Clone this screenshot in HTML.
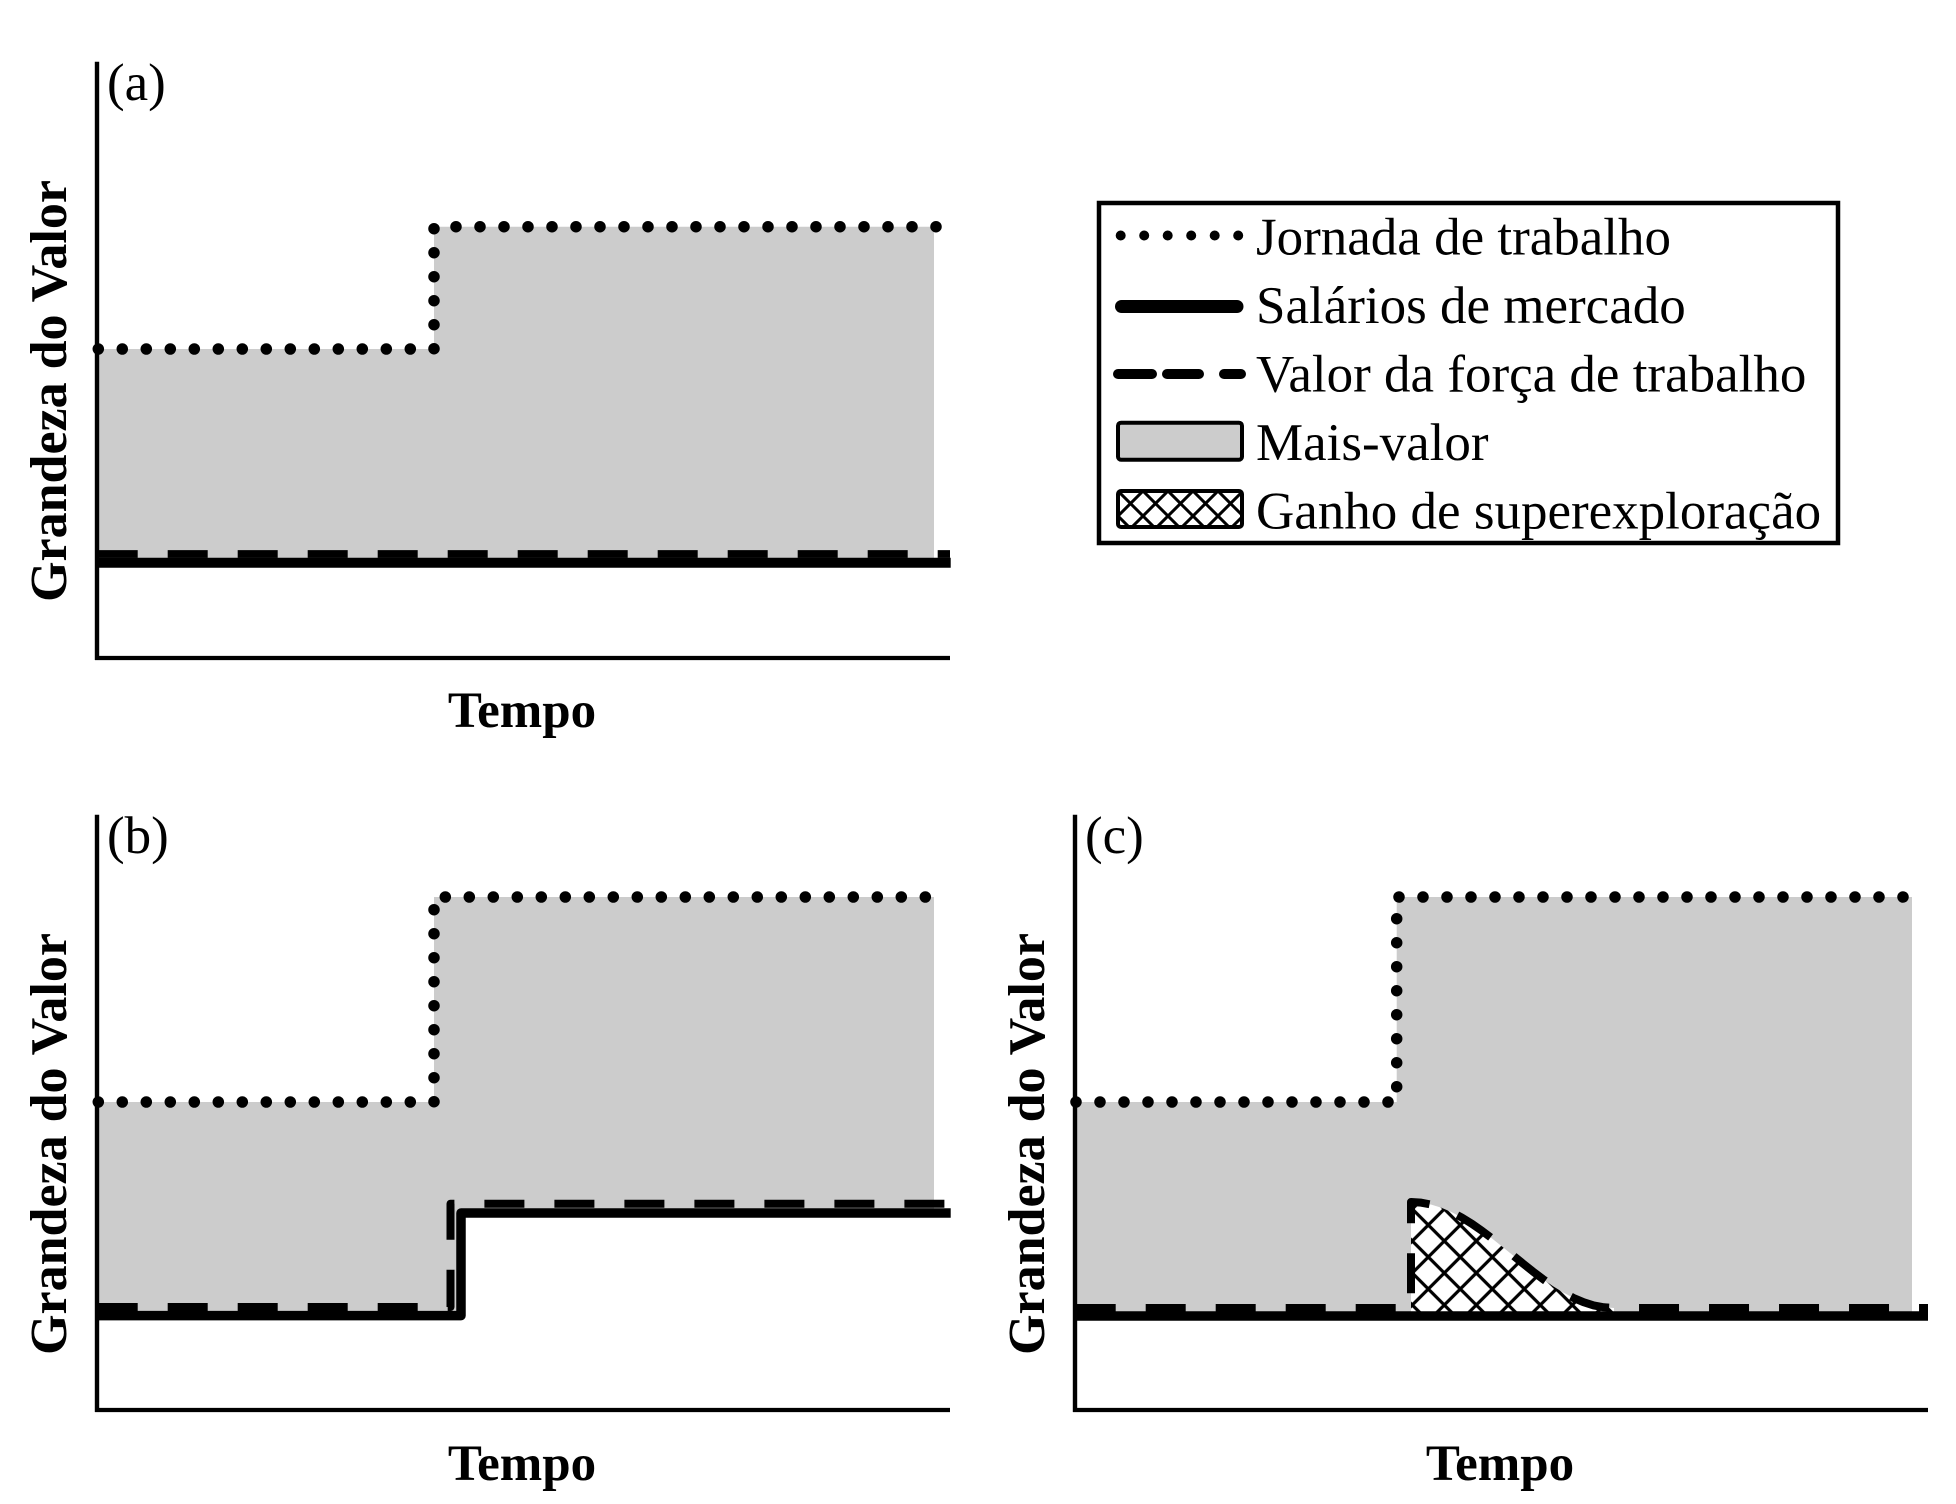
<!DOCTYPE html>
<html>
<head>
<meta charset="utf-8">
<style>
html,body{margin:0;padding:0;background:#fff;}
svg{display:block;}
text{font-family:"Liberation Serif","Times New Roman",serif;fill:#000;}
</style>
</head>
<body>
<svg xmlns="http://www.w3.org/2000/svg" width="1956" height="1504" viewBox="0 0 1956 1504">
<defs>
  <pattern id="h1" patternUnits="userSpaceOnUse" x="1412.3" y="1209" width="32" height="32">
    <rect width="32" height="32" fill="#fff"/>
    <path d="M0,0L32,32M32,0L0,32" stroke="#000" stroke-width="3.2" fill="none"/>
  </pattern>
  <pattern id="h2" patternUnits="userSpaceOnUse" x="1118" y="491" width="25" height="25">
    <rect width="25" height="25" fill="#fff"/>
    <path d="M0,0L25,25M25,0L0,25" stroke="#000" stroke-width="3" fill="none"/>
  </pattern>
</defs>
<rect width="1956" height="1504" fill="#fff"/>

<!-- ===== Panel (a) ===== -->
<path d="M99,349 H434 V226.7 H934 V558 H99 Z" fill="#cccccc"/>
<path d="M97.7,554 H950" stroke="#000" stroke-width="7.7" fill="none" stroke-dasharray="40 30"/>
<path d="M97,562.7 H950.7" stroke="#000" stroke-width="10" fill="none"/>
<path d="M98.3,349 H434 V226.7 H940" stroke="#000" stroke-width="11.5" fill="none" stroke-dasharray="0 24" stroke-linecap="round"/>
<path d="M97,61.7 V660" stroke="#000" stroke-width="4.4"/>
<path d="M95,658 H950" stroke="#000" stroke-width="4.2"/>
<text x="107" y="100" font-size="53">(a)</text>
<text x="522" y="727" font-size="51" font-weight="bold" text-anchor="middle">Tempo</text>
<text transform="translate(66,391) rotate(-90)" font-size="52" font-weight="bold" text-anchor="middle">Grandeza do Valor</text>

<!-- ===== Panel (b) ===== -->
<path d="M99,1102 H434 V897 H934 V1210 H461 V1312 H99 Z" fill="#cccccc"/>
<path d="M97.7,1307 H450.5 V1203.7 H950" stroke="#000" stroke-width="8" fill="none" stroke-dasharray="40 30" stroke-linejoin="round"/>
<path d="M97,1315.6 H461 V1213 H950.7" stroke="#000" stroke-width="9.5" fill="none" stroke-linejoin="round"/>
<path d="M98.3,1102 H434 V897 H934" stroke="#000" stroke-width="11.5" fill="none" stroke-dasharray="0 24" stroke-linecap="round"/>
<path d="M97,814.7 V1412" stroke="#000" stroke-width="4.4"/>
<path d="M95,1410 H950" stroke="#000" stroke-width="4.2"/>
<text x="107" y="853" font-size="53">(b)</text>
<text x="522" y="1480" font-size="51" font-weight="bold" text-anchor="middle">Tempo</text>
<text transform="translate(66,1144) rotate(-90)" font-size="52" font-weight="bold" text-anchor="middle">Grandeza do Valor</text>

<!-- ===== Panel (c) ===== -->
<path d="M1077,1102 H1396.7 V897 H1912 V1312 H1077 Z" fill="#cccccc"/>
<path d="M1411,1202 L1421.15,1202.65 L1431.3,1204.6 L1441.45,1207.8 L1451.6,1212.1 L1461.75,1217.5 L1471.9,1223.8 L1482.05,1230.9 L1492.2,1238.6 L1502.35,1246.7 L1512.5,1255 L1522.65,1263.3 L1532.8,1271.4 L1542.95,1279.1 L1553.1,1286.2 L1563.25,1292.5 L1573.4,1297.9 L1583.55,1302.2 L1593.7,1305.4 L1603.85,1307.3 L1614,1308 L1614,1312 L1411,1312 Z" fill="url(#h1)"/>
<path d="M1075.7,1308 H1411 V1202 L1421.15,1202.65 L1431.3,1204.6 L1441.45,1207.8 L1451.6,1212.1 L1461.75,1217.5 L1471.9,1223.8 L1482.05,1230.9 L1492.2,1238.6 L1502.35,1246.7 L1512.5,1255 L1522.65,1263.3 L1532.8,1271.4 L1542.95,1279.1 L1553.1,1286.2 L1563.25,1292.5 L1573.4,1297.9 L1583.55,1302.2 L1593.7,1305.4 L1603.85,1307.3 L1614,1308 H1928" stroke="#000" stroke-width="8" fill="none" stroke-dasharray="40 30" stroke-linejoin="round"/>
<path d="M1075,1316 H1928" stroke="#000" stroke-width="9.5" fill="none"/>
<path d="M1076,1102 H1396.7 V897 H1914" stroke="#000" stroke-width="11.5" fill="none" stroke-dasharray="0 24" stroke-linecap="round"/>
<path d="M1075,814.7 V1412" stroke="#000" stroke-width="4.4"/>
<path d="M1073,1410 H1928" stroke="#000" stroke-width="4.2"/>
<text x="1085" y="853" font-size="53">(c)</text>
<text x="1500" y="1480" font-size="51" font-weight="bold" text-anchor="middle">Tempo</text>
<text transform="translate(1044,1144) rotate(-90)" font-size="52" font-weight="bold" text-anchor="middle">Grandeza do Valor</text>

<!-- ===== Legend ===== -->
<rect x="1099" y="203" width="739" height="340" fill="#fff" stroke="#000" stroke-width="4.5"/>
<g fill="#000">
  <circle cx="1120.7" cy="235.5" r="5"/>
  <circle cx="1144.2" cy="235.5" r="5"/>
  <circle cx="1167.7" cy="235.5" r="5"/>
  <circle cx="1191.2" cy="235.5" r="5"/>
  <circle cx="1214.7" cy="235.5" r="5"/>
  <circle cx="1238.2" cy="235.5" r="5"/>
</g>
<path d="M1121.5,306.5 H1237" stroke="#000" stroke-width="13" stroke-linecap="round"/>
<path d="M1118,374 H1152 M1167,374 H1199 M1224,374 H1241" stroke="#000" stroke-width="10" stroke-linecap="round"/>
<rect x="1118" y="422.7" width="124" height="37" rx="3" fill="#cccccc" stroke="#000" stroke-width="4"/>
<rect x="1118" y="491" width="124" height="36" rx="3" fill="url(#h2)" stroke="#000" stroke-width="4"/>
<text x="1256" y="254.5" font-size="53">Jornada de trabalho</text>
<text x="1256" y="323" font-size="53">Salários de mercado</text>
<text x="1256" y="391.5" font-size="53">Valor da força de trabalho</text>
<text x="1256" y="460" font-size="53">Mais-valor</text>
<text x="1256" y="528.5" font-size="53">Ganho de superexploração</text>
</svg>
</body>
</html>
